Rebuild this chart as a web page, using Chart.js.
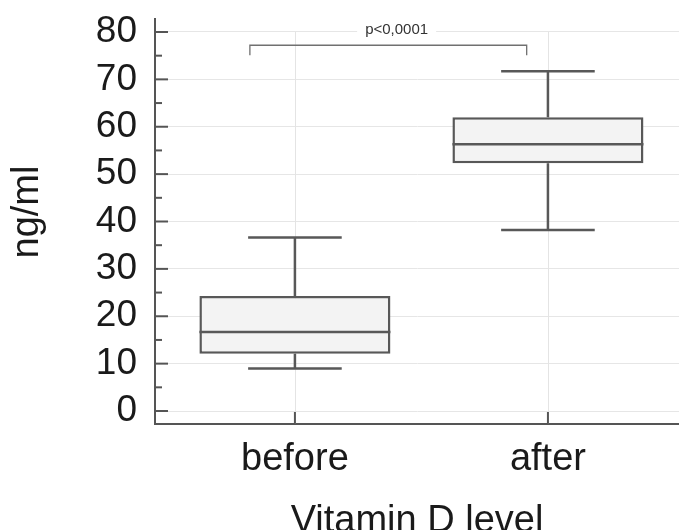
<!DOCTYPE html>
<html><head><meta charset="utf-8">
<script src="https://cdn.jsdelivr.net/npm/chart.js@4"></script>
<style>html,body{margin:0;padding:0;background:#fff;overflow:hidden}#wrap{width:679px;height:530px;position:relative}</style>
</head><body><div id="wrap"><canvas id="c" width="679" height="530"></canvas></div>
<script>
// ---- data ----
const categories = ['before', 'after'];
const whiskerLow = [9.0, 38.2];
const q1 = [12.1, 52.3];
const median = [16.7, 56.3];
const q3 = [24.3, 62.0];
const whiskerHigh = [36.6, 71.7];
const yTickValues = [0, 10, 20, 30, 40, 50, 60, 70, 80];
const pText = 'p<0,0001';
const xTitle = 'Vitamin D level';
const yTitle = 'ng/ml';

const FONT = '"Liberation Sans", Arial, Helvetica, sans-serif';
const AXIS = '#555555';
const BOX = '#585858';

const boxPlugin = {
  id: 'boxplot',
  beforeDatasetsDraw(chart) {
    const {ctx, scales: {x, y}, chartArea} = chart;
    ctx.save();
    // vertical grid lines at the categories
    ctx.strokeStyle = '#e4e4e4'; ctx.lineWidth = 1;
    categories.forEach((c, i) => {
      const px = Math.round(x.getPixelForValue(i + 1)) + 0.5;
      ctx.beginPath();
      ctx.moveTo(px, y.getPixelForValue(yTickValues[yTickValues.length - 1]));
      ctx.lineTo(px, chartArea.bottom);
      ctx.stroke();
    });
    // whiskers
    const meta = chart.getDatasetMeta(0);
    ctx.strokeStyle = BOX; ctx.lineWidth = 2.5;
    categories.forEach((c, i) => {
      const px = x.getPixelForValue(i + 1);
      const half = meta.data[i].width * 0.245;
      ctx.beginPath();
      ctx.moveTo(px, y.getPixelForValue(q3[i])); ctx.lineTo(px, y.getPixelForValue(whiskerHigh[i]));
      ctx.moveTo(px, y.getPixelForValue(q1[i])); ctx.lineTo(px, y.getPixelForValue(whiskerLow[i]));
      ctx.moveTo(px - half, y.getPixelForValue(whiskerHigh[i])); ctx.lineTo(px + half, y.getPixelForValue(whiskerHigh[i]));
      ctx.moveTo(px - half, y.getPixelForValue(whiskerLow[i])); ctx.lineTo(px + half, y.getPixelForValue(whiskerLow[i]));
      ctx.stroke();
    });
    ctx.restore();
  },
  afterDatasetsDraw(chart) {
    const {ctx, scales: {x, y}, chartArea} = chart;
    const meta = chart.getDatasetMeta(0);
    ctx.save();
    // medians
    ctx.strokeStyle = BOX; ctx.lineWidth = 2.5;
    categories.forEach((c, i) => {
      const px = x.getPixelForValue(i + 1);
      const half = meta.data[i].width / 2;
      const py = y.getPixelForValue(median[i]);
      ctx.beginPath(); ctx.moveTo(px - half, py); ctx.lineTo(px + half, py); ctx.stroke();
    });
    // inward tick marks on y axis
    ctx.strokeStyle = AXIS; ctx.lineWidth = 2;
    yTickValues.forEach((v, i) => {
      const py = y.getPixelForValue(v);
      ctx.beginPath(); ctx.moveTo(chartArea.left, py); ctx.lineTo(chartArea.left + 13, py); ctx.stroke();
      if (i < yTickValues.length - 1) {
        const pm = y.getPixelForValue((v + yTickValues[i + 1]) / 2);
        ctx.beginPath(); ctx.moveTo(chartArea.left, pm); ctx.lineTo(chartArea.left + 7, pm); ctx.stroke();
      }
    });
    // inward tick marks on x axis
    categories.forEach((c, i) => {
      const px = x.getPixelForValue(i + 1);
      ctx.beginPath(); ctx.moveTo(px, chartArea.bottom); ctx.lineTo(px, chartArea.bottom - 12); ctx.stroke();
    });
    // significance bracket
    const bx1 = x.getPixelForValue(0.822), bx2 = x.getPixelForValue(1.916);
    const by = y.getPixelForValue(77.2), bt = y.getPixelForValue(75.1);
    ctx.strokeStyle = '#707070'; ctx.lineWidth = 1.3;
    ctx.beginPath();
    ctx.moveTo(bx1, bt); ctx.lineTo(bx1, by); ctx.lineTo(bx2, by); ctx.lineTo(bx2, bt);
    ctx.stroke();
    // p-value label with white background over the grid line
    ctx.font = '15px ' + FONT;
    const tx = x.getPixelForValue(1.402), ty = y.getPixelForValue(80.4);
    const tw = ctx.measureText(pText).width;
    ctx.fillStyle = '#ffffff';
    ctx.fillRect(tx - tw / 2 - 8, ty - 8, tw + 16, 14);
    ctx.fillStyle = '#333333'; ctx.textAlign = 'center'; ctx.textBaseline = 'middle';
    ctx.fillText(pText, tx, ty);
    ctx.restore();
  }
};

const boxData = categories.map((c, i) => ({x: i + 1, y: [q1[i], q3[i]]}));

new Chart(document.getElementById('c'), {
  type: 'bar',
  data: {
    datasets: [{
      data: boxData,
      backgroundColor: '#f3f3f3',
      borderColor: BOX,
      borderWidth: 2.5,
      borderSkipped: false,
      barPercentage: 0.755,
      categoryPercentage: 1
    }]
  },
  options: {
    responsive: false,
    animation: false,
    layout: {padding: {top: 0, right: 0, left: 0, bottom: 0}},
    plugins: {legend: {display: false}, tooltip: {enabled: false}},
    scales: {
      x: {
        type: 'linear', min: 0.447, max: 2.518, offset: false,
        afterBuildTicks: s => { s.ticks = categories.map((c, i) => ({value: i + 1})); },
        ticks: {
          callback: (v, idx) => categories[idx],
          font: {family: FONT, size: 38}, color: '#1a1a1a', padding: 13,
          maxRotation: 0, autoSkip: false
        },
        grid: {display: false, drawTicks: false, tickLength: 0},
        border: {display: true, color: AXIS, width: 2},
        title: {display: true, text: xTitle, color: '#1a1a1a',
          font: {family: FONT, size: 38, lineHeight: 0.84}, padding: {top: 0, bottom: -7}},
        afterFit: s => { s.height = 106; s.paddingLeft = 0; s.paddingRight = 0; }
      },
      y: {
        min: -2.74, max: 82.74,
        afterBuildTicks: s => { s.ticks = yTickValues.map(v => ({value: v})); },
        ticks: {font: {family: FONT, size: 37}, color: '#1a1a1a', padding: 18},
        grid: {color: '#e6e6e6', lineWidth: 1, drawTicks: false, tickLength: 0},
        border: {display: true, color: AXIS, width: 2},
        title: {display: true, text: '\u2002' + yTitle, color: '#1a1a1a',
          font: {family: FONT, size: 38}, padding: {top: 5, bottom: 0}},
        afterFit: s => { s.width = 155; s.paddingTop = 19; s.paddingBottom = 0; }
      }
    }
  },
  plugins: [boxPlugin]
});
</script>
</body></html>
